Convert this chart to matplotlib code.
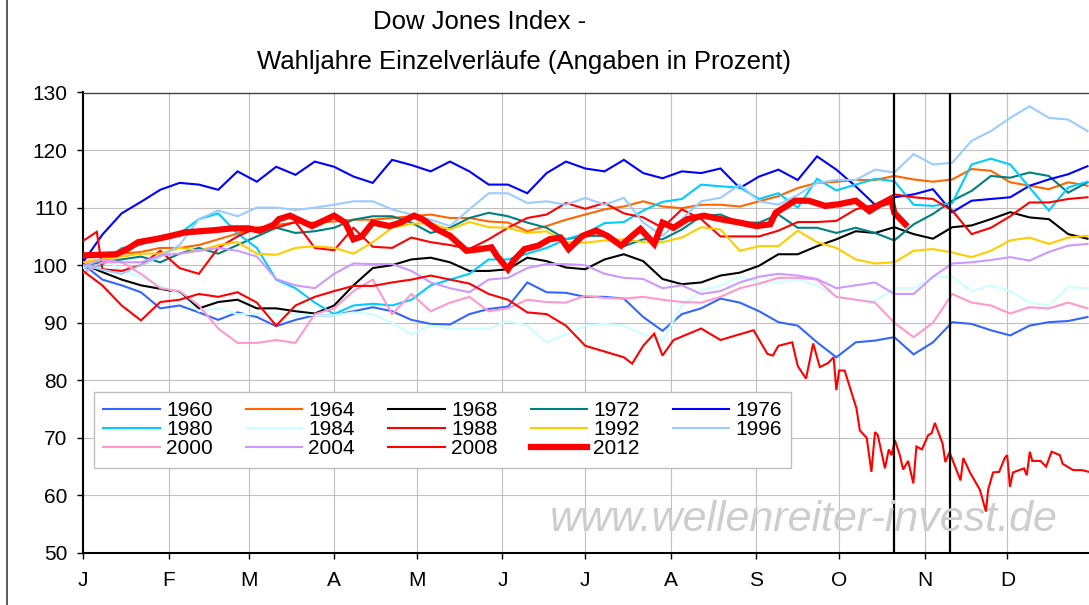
"""Dow Jones Index - election years, each year normalised to 100 at the start.

Rebuilds the Excel chart "Wahljahre Einzelverlaeufe" as out.png.
"""

import matplotlib
matplotlib.use("Agg")
import matplotlib.pyplot as plt
from matplotlib.lines import Line2D

W, H = 1089, 605

# x axis = day of year (2012 calendar), one value per week for most years
WEEKS = list(range(0, 365, 7))
MONTH_STARTS = [0, 31, 60, 91, 121, 152, 182, 213, 244, 274, 305, 335]
MONTH_LABELS = ["J", "F", "M", "A", "M", "J", "J", "A", "S", "O", "N", "D"]
MARKER_DAYS = [294, 314]

y1960 = [100.2, 97.5, 96.5, 95.3, 92.5, 93, 91.8, 90.5, 91.8, 91, 89.4, 90.5, 91.3, 91.3,
         92, 92.7, 92, 90.5, 89.8, 89.7, 91.5, 92.4, 92.8, 97, 95.3, 95.2, 94.5, 94.5,
         94.2, 91, 88.6, 91.5, 92.5, 94.2, 93.5, 92, 90.1, 89.5, 86.6, 84, 86.6, 86.9,
         87.5, 84.5, 86.6, 90.1, 89.8, 88.7, 87.8, 89.5, 90.1, 90.3, 91]
y1964 = [100.5, 101, 102, 102.3, 103, 103, 103.5, 104.5, 105.5, 106.5, 107, 107.4, 107.4,
         107.6, 107.9, 107.9, 108.2, 108.5, 108.8, 108.2, 108.2, 107.6, 107.4, 105.9, 106.8,
         107.9, 108.8, 109.7, 110.2, 111.1, 110.2, 109.9, 110.5, 110.5, 110.2, 111.1, 112,
         113.4, 114.3, 114.5, 114.8, 114.8, 115.5, 114.9, 114.5, 114.9, 116.7, 116.4, 114.4,
         113.8, 113.2, 114.4, 113.8]
y1968 = [100.2, 98.8, 97.5, 96.5, 95.9, 95.3, 92.5, 93.6, 94, 92.5, 92.5, 92, 91.6, 93,
         96.5, 99.5, 100, 101, 101.3, 100.5, 99, 99, 99.3, 101.3, 100.7, 99.6, 99.3, 101,
         101.9, 100.7, 97.6, 96.7, 97, 98.2, 98.7, 99.9, 101.9, 101.9, 103.3, 104.5, 105.9,
         105.6, 106.6, 105.4, 104.6, 106.6, 106.9, 108, 109.2, 108.3, 108, 105.4, 104.6]
y1972 = [100, 100.5, 101, 101.5, 100.5, 102, 103, 102, 103.5, 105, 106.5, 105.6, 105.9,
         106.5, 107.9, 108.5, 108.5, 107.4, 105.6, 106.5, 108.2, 109.1, 108.5, 107.4, 106.5,
         104.5, 105.1, 105.1, 103.3, 104.5, 104.5, 106.2, 108.5, 108.8, 107.4, 107.4, 108.8,
         106.5, 106.5, 105.6, 106.5, 105.6, 104.3, 107.1, 108.9, 111.2, 112.9, 115.5, 115.2,
         116.1, 115.5, 112.6, 114.4]
y1976 = [100.5, 105.3, 109, 111, 113.1, 114.3, 114, 113.1, 116.3, 114.5, 117.1, 115.7, 118,
         117.1, 115.4, 114.3, 118.3, 117.4, 116.3, 118, 116.3, 114, 114, 112.5, 116, 118,
         116.8, 116.3, 118.3, 116, 115.1, 116.3, 116, 116.8, 113.4, 115.4, 116.6, 114.8,
         118.9, 116.6, 113.7, 110.5, 111.8, 112.3, 113.2, 109.2, 111.2, 111.5, 111.8, 113.8,
         114.9, 115.8, 117.2]
y1980 = [99.5, 100, 103, 103.5, 105, 105.5, 108, 109, 105.5, 103, 97.5, 96, 93.5, 91.5, 93,
         93.3, 93, 94, 96.5, 97.5, 98.5, 101, 101, 102, 103, 104.5, 105.5, 107.3, 107.5,
         109.5, 111, 111.5, 114, 113.7, 113.5, 111.5, 112.5, 110, 115, 113, 114, 115, 114.6,
         110.5, 110.3, 110.8, 117.5, 118.5, 117.5, 113.5, 109.5, 113.5, 114.5]
y1984 = [99.5, 101.5, 99, 98, 96.5, 95, 92, 92.5, 91.5, 91.5, 91.5, 91.5, 91.3, 91.3, 91.8,
         91.5, 90, 88, 89.5, 89, 89, 89, 90.3, 89.5, 86.6, 88, 89.5, 89.8, 89.5, 88, 87, 93,
         95.5, 96.5, 98, 97, 97, 97.5, 96.5, 94.5, 94, 93.8, 96, 96, 98, 98, 95.5, 96.5, 95.5,
         93.5, 93, 96.2, 96]
days1988 = [0, 5] + WEEKS[1:]
y1988 = [104.2, 105.8, 99.3, 99, 100, 102.5, 99.5, 98.5, 103, 105, 106.5, 106.5, 107.5, 103,
         102.6, 106.5, 103.2, 103, 104.8, 104, 103.5, 102.8, 104.5, 106.5, 108.2, 108.8, 110.8,
         109.8, 110.8, 109, 108.3, 106.5, 109.7, 108, 105, 105, 105, 106, 107.5, 107.5, 107.7,
         109.7, 110.5, 112.3, 111.8, 111.5, 109.5, 105.4, 106.5, 108.5, 110.9, 110.9, 111.5,
         111.8]
y1992 = [100.5, 101, 101.5, 102, 102, 103, 102.5, 103.5, 104, 102, 101.8, 103, 103.3, 103, 102,
         104, 106.5, 107.2, 107.3, 106.2, 107.5, 106.6, 106.5, 105.6, 105.9, 104, 103.9, 104.3,
         104.5, 104, 104, 104.8, 106.6, 106.2, 102.5, 103.3, 103.3, 106, 104, 103, 101, 100.3,
         100.5, 102.5, 102.8, 102.2, 101.4, 102.5, 104.3, 104.8, 103.7, 104.8, 105.1]
y1996 = [100, 99.2, 98.5, 100, 101.5, 103.5, 108, 109.5, 108.5, 110, 110, 109.6, 110, 110.5,
         111.1, 111.1, 109.7, 108.8, 107.9, 106.8, 109.7, 112.5, 112.5, 110.8, 111.1, 110.5,
         111.7, 110.5, 111.7, 107.4, 105.1, 108, 111.1, 111.7, 114, 111.1, 110.5, 112.2, 114.3,
         114.8, 114.8, 116.6, 116.1, 119.3, 117.5, 117.8, 121.6, 123.3, 125.6, 127.6, 125.6,
         125.3, 123.3]
y2000 = [98.7, 100.5, 100.5, 98.5, 96, 95.5, 93, 89, 86.5, 86.5, 87, 86.5, 91.5, 92.5, 95.5,
         97.5, 91.5, 95, 92, 93.5, 94.5, 92, 92.5, 94, 93.6, 93.5, 94.7, 94.3, 94.2, 94.5, 94,
         93.6, 93.5, 94.5, 96, 96.8, 97.8, 97.8, 97.5, 94.5, 94, 93.5, 90, 87.5, 90, 95, 93.5,
         93, 91.6, 92.7, 92.5, 93.5, 92.5]
y2004 = [99.8, 101, 100.5, 100.5, 101.7, 102, 102.5, 103, 102.5, 101.5, 97.6, 96.5, 96, 98.5,
         100.3, 100.2, 100.2, 99, 97, 96, 95.3, 97.5, 97.8, 99.5, 100.2, 100.2, 100, 98.5, 97.8,
         97.6, 96, 96.5, 95, 95.5, 97, 98, 98.5, 98.2, 97.6, 96, 96.5, 97, 95, 95, 98, 100.3,
         100.5, 100.9, 101.4, 100.8, 102.3, 103.4, 103.7]
days2008 = [0, 7, 14, 21, 28, 35, 42, 49, 56, 63, 70, 77, 84, 91, 98, 105, 112, 119, 126, 133,
            140, 147, 154, 161, 168, 175, 182, 189, 196, 199, 203, 207, 210, 214, 224, 231, 238,
            243, 248, 250, 252, 257, 259, 262, 264.6, 267, 270, 272, 273, 274, 276, 280.3, 281.5,
            284, 285.7, 287, 288, 290.6, 292, 293, 294.2, 296, 297.2, 299, 300.9, 302, 304,
            306.3, 307.5, 308.7, 311.5, 312.5, 314, 318, 319, 321.4, 325, 327.2, 328, 329.8,
            332, 334, 334.9, 335.9, 337, 341, 342, 343.1, 344, 347, 349, 351, 354, 355, 358.8,
            362, 364.5]
y2008 = [99, 96.5, 93, 90.4, 93.6, 94, 95, 94.5, 95.3, 93.5, 89.5, 93, 94.5, 95.5, 96.4, 96.4,
         97, 97.5, 98.2, 97.5, 96.8, 95, 94, 91.8, 91.5, 89.5, 86, 85, 84, 82.9, 86, 88.1, 84.3,
         87, 89, 87, 88, 88.7, 84.6, 84.3, 86, 86.6, 82.5, 80.3, 86.4, 82.3, 83, 84, 78.3, 81.7,
         81.7, 75.1, 71.3, 70, 64.1, 71, 70.5, 64.7, 68, 67, 69.6, 67, 64.5, 66, 62.1, 68.5,
         68, 70.5, 70.8, 72.6, 69, 65.8, 67.5, 62.6, 66.5, 64, 61, 57.2, 61, 64, 64.1, 66.5,
         67, 61.5, 64, 64.7, 63.5, 67.6, 66, 66, 65, 67.6, 67, 65.5, 64.4, 64.4, 64.1]
days2012 = [0, 12, 16, 20, 26, 31, 37, 48, 54, 60, 64, 69, 71, 75, 79, 83, 91, 95, 98, 101,
            105, 111, 115, 120, 123, 128, 133, 139, 144, 148, 150, 154, 156, 160, 165, 169,
            173, 176, 181, 186, 190, 195, 199, 202, 207, 210, 214, 219, 225, 231, 238, 244,
            249, 251, 258, 263, 269, 274, 280, 285, 289, 293, 294, 298]
y2012 = [101.7, 101.9, 102.8, 104, 104.5, 105, 105.7, 106.1, 106.4, 106.4, 106, 107, 108,
         108.6, 107.7, 106.8, 108.6, 107.4, 104.5, 105, 107.4, 106.8, 107.4, 108.6, 108, 106.3,
         105.1, 102.5, 102.8, 103.1, 101.6, 99.3, 100.8, 102.8, 103.4, 104.5, 104.8, 102.8,
         105.1, 106, 105.1, 103.4, 105.1, 106.3, 103.7, 107.4, 106.5, 108, 108.6, 108, 107.4,
         106.8, 107.1, 109.1, 111.2, 111.2, 110.3, 110.6, 111.2, 109.4, 110.6, 111.2, 109.1,
         107.1]

# label, x, y, colour, width
SERIES = [
    ("1960", WEEKS, y1960, "#3366FF", 1.5),
    ("1964", WEEKS, y1964, "#FF6600", 1.5),
    ("1968", WEEKS, y1968, "#000000", 1.5),
    ("1972", WEEKS, y1972, "#008080", 1.5),
    ("1976", WEEKS, y1976, "#0000FF", 1.5),
    ("1980", WEEKS, y1980, "#00CCFF", 1.5),
    ("1984", WEEKS, y1984, "#CCFFFF", 1.5),
    ("1988", days1988, y1988, "#FF0000", 1.5),
    ("1992", WEEKS, y1992, "#FFCC00", 1.5),
    ("1996", WEEKS, y1996, "#99CCFF", 1.5),
    ("2000", WEEKS, y2000, "#FF99CC", 1.5),
    ("2004", WEEKS, y2004, "#CC99FF", 1.5),
    ("2008", days2008, y2008, "#FF0000", 1.5),
    ("2012", days2012, y2012, "#FF0000", 4.5),
]
# legend reads row by row in the original; matplotlib fills column by column
LEGEND_ORDER = ["1960", "1980", "2000", "1964", "1984", "2004", "1968", "1988", "2008",
                "1972", "1992", "2012", "1976", "1996"]


def main():
    plt.rcParams["font.family"] = ["Liberation Sans", "DejaVu Sans"]

    fig = plt.figure(figsize=(W / 100, H / 100), dpi=100)
    ax = fig.add_axes([83 / W, 52 / H, 1010 / W, 460.5 / H])

    lines = {}
    for label, xs, ys, color, lw in SERIES:
        (ln,) = ax.plot(xs, ys, color=color, linewidth=lw, label=label,
                        solid_joinstyle="miter", zorder=3)
        lines[label] = ln

    for d in MARKER_DAYS:
        ax.axvline(d, color="black", linewidth=1.6, zorder=4)

    ax.set_xlim(0, 366)
    ax.set_ylim(50, 130)
    ax.set_yticks(range(50, 131, 10))
    ax.set_xticks(MONTH_STARTS)
    ax.set_xticklabels(MONTH_LABELS)
    ax.tick_params(axis="both", labelsize=15, direction="out", length=4, width=1)
    ax.tick_params(axis="x", pad=9)
    ax.tick_params(axis="y", pad=7)
    ax.grid(True, color="#C0C0C0", linewidth=0.8, zorder=0)
    ax.set_axisbelow(True)

    for side in ("left", "bottom"):
        ax.spines[side].set_linewidth(1.5)
        ax.spines[side].set_color("black")
    ax.spines["top"].set_color("#404040")
    ax.spines["top"].set_linewidth(1.0)
    ax.spines["right"].set_visible(False)

    leg = fig.legend([lines[k] for k in LEGEND_ORDER], LEGEND_ORDER,
                     loc="upper left", bbox_to_anchor=(94 / W, 1 - 392 / H),
                     borderaxespad=0, ncol=5, fontsize=15, handlelength=2.7,
                     handletextpad=0.3, columnspacing=1.6, labelspacing=0.0,
                     borderpad=0.45, fancybox=False, framealpha=1)
    leg.get_frame().set_edgecolor("#BFBFBF")
    leg.get_frame().set_linewidth(1.0)
    leg.set_zorder(5)

    fig.text(480 / W, 1 - 22 / H, "Dow Jones Index -", ha="center", va="center",
             fontsize=18.5)
    fig.text(524 / W, 1 - 62 / H, "Wahljahre Einzelverläufe (Angaben in Prozent)",
             ha="center", va="center", fontsize=18.5)

    fig.text(804 / W, 1 - 520 / H, "www.wellenreiter-invest.de", ha="center",
             va="center", fontsize=31, style="italic", color="#CDCDCD", zorder=1)

    # outer chart-area border on the left
    fig.add_artist(Line2D([7 / W, 7 / W], [0, 1], color="#404040", linewidth=1.2))

    fig.savefig("out.png", dpi=100)
    plt.close(fig)


if __name__ == "__main__":
    main()
